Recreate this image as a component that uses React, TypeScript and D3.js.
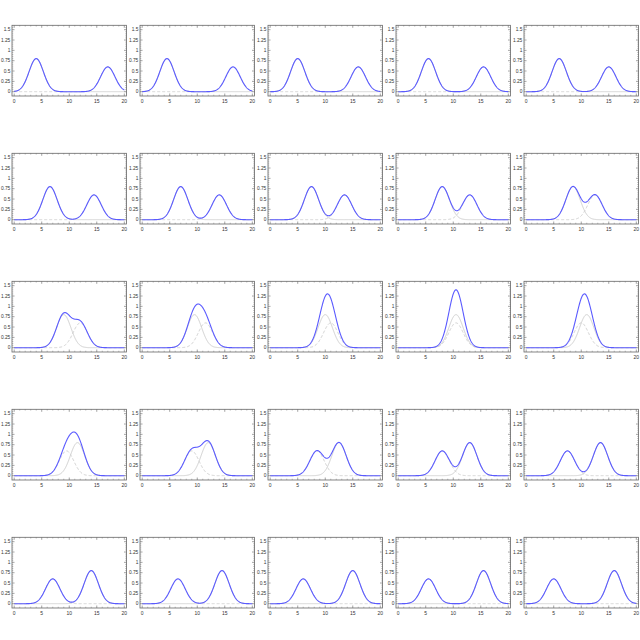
import React from "react";
import * as d3 from "d3";

// Frame centers (x) of the two Gaussian bumps, one per small multiple (row-major, 25 frames)
const centersA = [4, 4.5, 5, 5.5, 6, 6.5, 7, 7.5, 8, 8.5, 9, 9.5, 10, 10.5, 11, 11.5, 12, 12.5, 13, 13.5, 14, 14.5, 15, 15.5, 16];
const centersB = [17, 16.5, 16, 15.5, 15, 14.5, 14, 13.5, 13, 12.5, 12, 11.5, 11, 10.5, 10, 9.5, 9, 8.5, 8, 7.5, 7, 6.5, 6, 5.5, 5];
const amplitudes = [0.8, 0.6];
const widths = [1.3, 1.3];
const xTicks = [0, 5, 10, 15, 20];
const yTicks = [0, 0.25, 0.5, 0.75, 1, 1.25, 1.5];
const yTickLabels = ["0", "0.25", "0.5", "0.75", "1", "1.25", "1.5"];

const COLS = 5;
const CELL = 128;
const xs = d3.range(0, 20.0001, 0.05);
const FONT = "Liberation Sans, Arial, sans-serif";

function gauss(x: number, c: number, a: number, s: number) {
  return a * Math.exp(-((x - c) * (x - c)) / (2 * s * s));
}

function Panel({ i }: { i: number }) {
  const col = i % COLS;
  const row = Math.floor(i / COLS);
  const cx = col * CELL;
  const cy = row * CELL;
  const x = d3.scaleLinear().domain([-0.4, 20.4]).range([cx + 12, cx + 126.5]);
  const y = d3.scaleLinear().domain([-0.104, 1.606]).range([cy + 96, cy + 25.3]);
  const cA = centersA[i];
  const cB = centersB[i];
  const line = d3
    .line<number>()
    .x((d) => x(d))
    .curve(d3.curveLinear);
  const fA = (v: number) => gauss(v, cA, amplitudes[0], widths[0]);
  const fB = (v: number) => gauss(v, cB, amplitudes[1], widths[1]);
  const pA = line.y((d) => y(fA(d)))(xs) || "";
  const pB = line.y((d) => y(fB(d)))(xs) || "";
  const pS = line.y((d) => y(fA(d) + fB(d)))(xs) || "";
  const [x0, x1] = x.range();
  const [y0, y1] = y.range();
  const minorX = d3.range(0, 20.001, 1).filter((v) => v % 5 !== 0);
  const minorY = d3.range(0, 1.6, 0.05).filter((v) => Math.abs(v / 0.25 - Math.round(v / 0.25)) > 0.01);
  return (
    <g>
      <path d={pA} fill="none" stroke="#d0d0d0" strokeWidth={1} />
      <path d={pB} fill="none" stroke="#d0d0d0" strokeWidth={1} strokeDasharray="3,2" />
      <path d={pS} fill="none" stroke="#5a5aff" strokeWidth={1.1} />
      <rect x={x0} y={y1} width={x1 - x0} height={y0 - y1} fill="none" stroke="#666" strokeWidth={0.8} />
      {xTicks.map((t) => (
        <g key={"xt" + t}>
          <line x1={x(t)} x2={x(t)} y1={y0} y2={y0 - 2.5} stroke="#666" strokeWidth={0.6} />
          <line x1={x(t)} x2={x(t)} y1={y1} y2={y1 + 2.5} stroke="#666" strokeWidth={0.6} />
          <text x={x(t)} y={cy + 102.5} fontSize={5} fontFamily={FONT} textAnchor="middle" fill="#333">
            {t}
          </text>
        </g>
      ))}
      {minorX.map((t) => (
        <g key={"xm" + t}>
          <line x1={x(t)} x2={x(t)} y1={y0} y2={y0 - 1.3} stroke="#666" strokeWidth={0.4} />
          <line x1={x(t)} x2={x(t)} y1={y1} y2={y1 + 1.3} stroke="#666" strokeWidth={0.4} />
        </g>
      ))}
      {yTicks.map((t, k) => (
        <g key={"yt" + t}>
          <line x1={x0} x2={x0 + 2.5} y1={y(t)} y2={y(t)} stroke="#666" strokeWidth={0.6} />
          <line x1={x1} x2={x1 - 2.5} y1={y(t)} y2={y(t)} stroke="#666" strokeWidth={0.6} />
          <text x={cx + 10.3} y={y(t) + 1.7} fontSize={4.8} fontFamily={FONT} textAnchor="end" fill="#333">
            {yTickLabels[k]}
          </text>
        </g>
      ))}
      {minorY.map((t) => (
        <g key={"ym" + t}>
          <line x1={x0} x2={x0 + 1.3} y1={y(t)} y2={y(t)} stroke="#666" strokeWidth={0.4} />
          <line x1={x1} x2={x1 - 1.3} y1={y(t)} y2={y(t)} stroke="#666" strokeWidth={0.4} />
        </g>
      ))}
    </g>
  );
}

export default function App() {
  return (
    <svg
      width={640}
      height={640}
      viewBox="0 0 640 640"
      style={{ position: "absolute", left: 0, top: 0, background: "#fff" }}
    >
      <rect x={0} y={0} width={640} height={640} fill="#fff" />
      {centersA.map((_, i) => (
        <Panel key={i} i={i} />
      ))}
    </svg>
  );
}
